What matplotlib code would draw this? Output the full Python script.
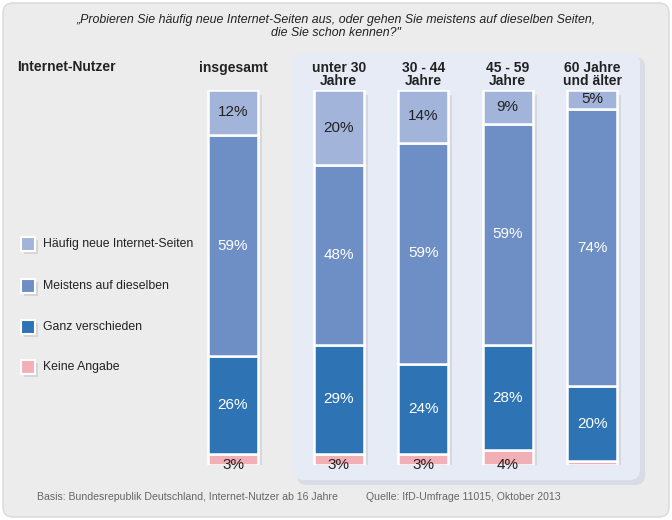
import numpy as np
import matplotlib.pyplot as plt
from matplotlib.patches import FancyBboxPatch

plt.rcParams['font.family'] = ['Liberation Sans', 'DejaVu Sans']

# data (percent, from bottom to top of each bar)
groups = ['insgesamt', 'unter 30\nJahre', '30 - 44\nJahre', '45 - 59\nJahre', '60 Jahre\nund älter']
keine = [3, 3, 3, 4, 1]
ganz = [26, 29, 24, 28, 20]
meistens = [59, 48, 59, 59, 74]
haeufig = [12, 20, 14, 9, 5]
keine_labels = ['3%', '3%', '3%', '4%', '']

series_names = ['Häufig neue Internet-Seiten', 'Meistens auf dieselben', 'Ganz verschieden', 'Keine Angabe']
col_haeufig = '#A2B4D9'
col_meistens = '#6E8FC5'
col_ganz = '#2E74B4'
col_keine = '#F2B0B6'

W, H = 672, 520
fig = plt.figure(figsize=(W / 100, H / 100), dpi=100)
fig.patch.set_facecolor('white')

# background layer in pixel coordinates
bg = fig.add_axes([0, 0, 1, 1])
bg.set_xlim(0, W)
bg.set_ylim(H, 0)
bg.axis('off')
bg.add_patch(FancyBboxPatch((3, 3), W - 6, H - 6, boxstyle='round,pad=0,rounding_size=10',
                            fc='#ECECEC', ec='#D8D8D8', lw=1))
# panel shadow + panel
bg.add_patch(FancyBboxPatch((297, 57), 348, 428, boxstyle='round,pad=0,rounding_size=10',
                            fc='#D9DCE4', ec='none'))
bg.add_patch(FancyBboxPatch((293, 53), 347, 427, boxstyle='round,pad=0,rounding_size=10',
                            fc='#E7EBF5', ec='none'))

bg.text(336, 14, '„Probieren Sie häufig neue Internet-Seiten aus, oder gehen Sie meistens auf dieselben Seiten,\ndie Sie schon kennen?"',
        ha='center', va='top', fontsize=8.9, style='italic', color='#222222', linespacing=1.1)
bg.text(17, 67, 'Internet-Nutzer', ha='left', va='center', fontsize=10, fontweight='bold', color='#222222')

# legend
leg_y = [245, 287, 328, 368]
leg_cols = [col_haeufig, col_meistens, col_ganz, col_keine]
for y, c, name in zip(leg_y, leg_cols, series_names):
    bg.add_patch(plt.Rectangle((24, y - 5), 14, 14, fc='#D5D5D5', ec='none'))
    bg.add_patch(plt.Rectangle((21, y - 8), 14, 14, fc=c, ec='white', lw=1.5))
    bg.text(43, y - 1, name, ha='left', va='center', fontsize=8.8, color='#222222')

bg.text(37, 497, 'Basis: Bundesrepublik Deutschland, Internet-Nutzer ab 16 Jahre',
        ha='left', va='center', fontsize=7.6, color='#666666')
bg.text(366, 497, 'Quelle: IfD-Umfrage 11015, Oktober 2013',
        ha='left', va='center', fontsize=7.6, color='#666666')

# bar axes: 84.5 px per unit, first bar at pixel 233
unit = 84.5
x0 = 233
pos = np.array([0, 1.25, 2.25, 3.25, 4.25])
ax = fig.add_axes([0, 55 / H, 1, 375 / H])
ax.set_xlim(-x0 / unit, (W - x0) / unit)
ax.set_ylim(0, 100)
ax.axis('off')
ax.patch.set_alpha(0)

bw = 50 / unit
bottoms = np.zeros(len(groups))
# soft shadow behind bars
ax.bar(pos + 4 / unit, 100, width=bw, bottom=-1.2, color='#C9CCD4', alpha=0.6, zorder=1)
for vals, c in [(keine, col_keine), (ganz, col_ganz), (meistens, col_meistens), (haeufig, col_haeufig)]:
    ax.bar(pos, vals, width=bw, bottom=bottoms, color=c, edgecolor='white', linewidth=1.8, zorder=2)
    bottoms = bottoms + np.array(vals)

# value labels
b = np.array(keine)
for vals, tc in [(ganz, 'white'), (meistens, 'white'), (haeufig, '#222222')]:
    for p, v, bb in zip(pos, vals, b):
        ax.text(p, bb + v / 2, f'{v}%', ha='center', va='center', fontsize=11, color=tc, zorder=3)
    b = b + np.array(vals)
for p, lab in zip(pos, keine_labels):
    ax.text(p, 0.0, lab, ha='center', va='center', fontsize=11, color='#222222', zorder=3)

# group headers
for p, g in zip(pos, groups):
    ax.text(p, 107.8, g, ha='center', va='top', fontsize=10, fontweight='bold',
            color='#222222', linespacing=0.9, clip_on=False)

fig.savefig('out.png', dpi=100, facecolor=fig.get_facecolor())
